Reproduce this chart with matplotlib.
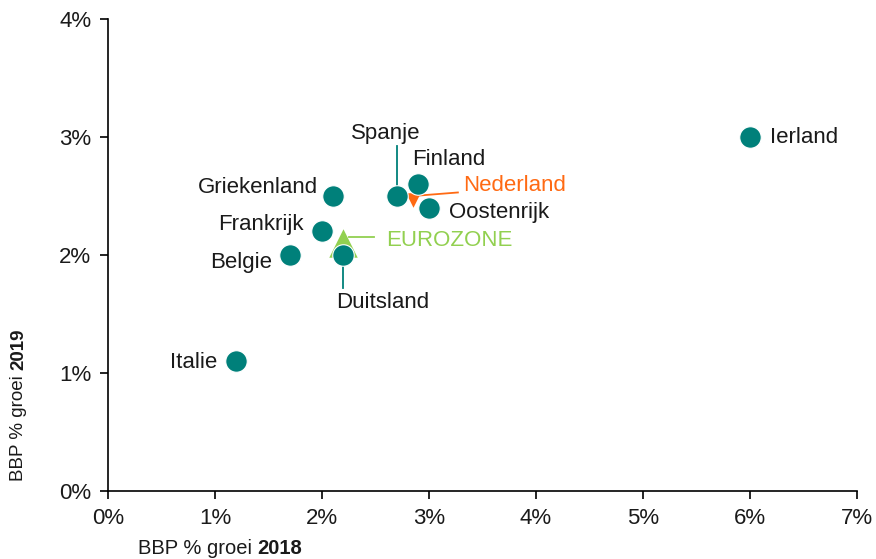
import matplotlib.pyplot as plt
from matplotlib.ticker import FuncFormatter

plt.rcParams['font.family'] = ['Liberation Sans', 'DejaVu Sans']

# BBP groei per land: 2018 (x) en 2019 (y), in %
landen = ['Ierland', 'Spanje', 'Finland', 'Oostenrijk', 'Griekenland',
          'Frankrijk', 'Belgie', 'Duitsland', 'Italie']
groei_2018 = [6.0, 2.7, 2.9, 3.0, 2.1, 2.0, 1.7, 2.2, 1.2]
groei_2019 = [3.0, 2.5, 2.6, 2.4, 2.5, 2.2, 2.0, 2.0, 1.1]

nl_2018, nl_2019 = 2.85, 2.47
ez_2018, ez_2019 = 2.2, 2.1

TEAL = '#00807A'
ORANGE = '#FF6A13'
LGREEN = '#92D050'

fig = plt.figure(figsize=(8.76, 5.59), dpi=100)
ax = fig.add_axes([0.1233, 0.1216, 0.855, 0.8444])

# eurozone & nederland (achter de cirkels)
ax.scatter([ez_2018], [ez_2019], marker='^', s=420, color=LGREEN, zorder=2, lw=0)
ax.scatter([nl_2018], [nl_2019], marker='v', s=110, color=ORANGE, zorder=2, lw=0)
ax.scatter(groei_2018, groei_2019, s=240, color=TEAL, edgecolor='white',
           lw=0.8, zorder=3)

fs = 16
dark = '#1a1a1a'
ax.text(6.19, 3.0, 'Ierland', ha='left', va='center', fontsize=fs, color=dark)
ax.text(2.6, 3.03, 'Spanje', ha='center', va='center', fontsize=fs, color=dark)
ax.text(2.84, 2.81, 'Finland', ha='left', va='center', fontsize=fs, color=dark)
ax.text(3.19, 2.36, 'Oostenrijk', ha='left', va='center', fontsize=fs, color=dark)
ax.text(1.96, 2.57, 'Griekenland', ha='right', va='center', fontsize=fs, color=dark)
ax.text(1.83, 2.26, 'Frankrijk', ha='right', va='center', fontsize=fs, color=dark)
ax.text(1.53, 1.94, 'Belgie', ha='right', va='center', fontsize=fs, color=dark)
ax.text(2.57, 1.60, 'Duitsland', ha='center', va='center', fontsize=fs, color=dark)
ax.text(1.02, 1.09, 'Italie', ha='right', va='center', fontsize=fs, color=dark)
ax.text(3.32, 2.585, 'Nederland', ha='left', va='center', fontsize=fs, color=ORANGE)
ax.text(2.60, 2.12, 'EUROZONE', ha='left', va='center', fontsize=fs, color=LGREEN)

# leader lines
ax.plot([2.7, 2.7], [2.5, 2.92], color=TEAL, lw=1.3, zorder=1)
ax.plot([2.2, 2.2], [2.0, 1.72], color=TEAL, lw=1.3, zorder=1)
ax.plot([nl_2018, 3.27], [nl_2019 + 0.03, 2.53], color=ORANGE, lw=1.3, zorder=1)
ax.plot([2.25, 2.49], [2.15, 2.15], color=LGREEN, lw=1.3, zorder=1)

ax.set_xlim(0, 7)
ax.set_ylim(0, 4)
ax.set_xticks(range(0, 8))
ax.set_yticks(range(0, 5))
pct = FuncFormatter(lambda v, _: f'{v:.0f}%')
ax.xaxis.set_major_formatter(pct)
ax.yaxis.set_major_formatter(pct)
ax.tick_params(direction='out', length=6, width=1.2, labelsize=16,
               labelcolor=dark, pad=6)
for s in ['top', 'right']:
    ax.spines[s].set_visible(False)
for s in ['left', 'bottom']:
    ax.spines[s].set_linewidth(1.2)

# as-titels, jaartal vet
xl = fig.text(0.157, 0.019, 'BBP % groei ', fontsize=14.5, color=dark,
              va='center', ha='left')
ax.annotate('2018', xy=(1, 0.5), xycoords=xl, fontsize=14.5, color=dark,
            va='center', ha='left', fontweight='bold')
yl = fig.text(0.021, 0.14, 'BBP % groei ', fontsize=13.5, color=dark,
              rotation=90, va='bottom', ha='center')
ax.annotate('2019', xy=(0.5, 1), xycoords=yl, fontsize=13.5, color=dark,
            rotation=90, va='bottom', ha='center', fontweight='bold')

fig.savefig('out.png', dpi=100)
